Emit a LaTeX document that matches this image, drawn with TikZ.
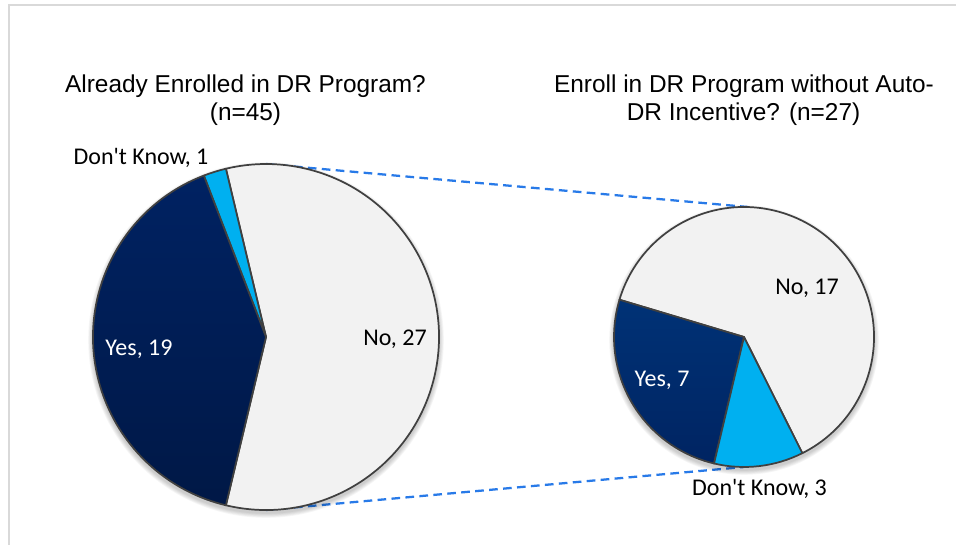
\documentclass[tikz,border=0pt]{standalone}
\usepackage{fontspec}
\usetikzlibrary{calc}
\setmainfont{Liberation Sans}
\newfontfamily\labfont{Carlito}
\definecolor{framegray}{RGB}{217,217,217}
\definecolor{nogray}{RGB}{242,242,242}
\definecolor{dkblue}{RGB}{0,176,240}
\definecolor{edgegray}{RGB}{64,64,64}
\definecolor{linkblue}{RGB}{40,122,232}
\definecolor{navytop}{RGB}{0,34,98}
\definecolor{navybot}{RGB}{0,24,70}
\definecolor{navytopb}{RGB}{0,50,118}
\definecolor{navybotb}{RGB}{0,36,98}
\tikzset{
  slice/.style={draw=edgegray, line width=1.3pt, line join=round},
  title/.style={font=\fontsize{18.3}{22}\selectfont, align=center, text=black, inner sep=0pt},
  datalabel/.style={font=\labfont\fontsize{18}{21}\selectfont, inner sep=0pt},
  link/.style={draw=linkblue, line width=1.7pt, dash pattern=on 6.5pt off 4pt},
}
\begin{document}
\begin{tikzpicture}[x=0.75pt, y=0.75pt]
\useasboundingbox (0,0) rectangle (956,-545);
% chart frame
\draw[framegray, line width=2pt] (9,-560) -- (9,-5) -- (970,-5);

% pie centres and radii
\coordinate (L) at (266,-337);
\coordinate (R) at (744,-337);
\def\rl{173}
\def\rr{130}

% connectors between the two pies
\coordinate (Ltop) at (266,-164);
\coordinate (Lbot) at (266,-510);
\coordinate (Rtop) at (748,-207);
\coordinate (Rbot) at (744,-467);
\draw[link] (Ltop) -- (Rtop);
\draw[link] (Lbot) -- (Rbot);

% soft shadows
\foreach \k in {1,...,6}{
  \fill[black, opacity=0.035] ($(L)+(0,-3)$) circle[radius=\rl+0.8*\k];
  \fill[black, opacity=0.035] ($(R)+(0,-3)$) circle[radius=\rr+0.8*\k];
}

% left pie: No 27, Don't Know 1, Yes 19
\filldraw[slice, fill=nogray] (L) -- ($(L)+(-103.40:\rl)$) arc[start angle=-103.40, end angle=103.40, radius=\rl] -- cycle;
\filldraw[slice, fill=dkblue] (L) -- ($(L)+(103.40:\rl)$) arc[start angle=103.40, end angle=111.06, radius=\rl] -- cycle;
\filldraw[slice, top color=navytop, bottom color=navybot] (L) -- ($(L)+(111.06:\rl)$) arc[start angle=111.06, end angle=256.60, radius=\rl] -- cycle;

% right pie: No 17, Yes 7, Don't Know 3
\filldraw[slice, fill=nogray] (R) -- ($(R)+(-63.33:\rr)$) arc[start angle=-63.33, end angle=163.33, radius=\rr] -- cycle;
\filldraw[slice, top color=navytopb, bottom color=navybotb] (R) -- ($(R)+(163.33:\rr)$) arc[start angle=163.33, end angle=256.67, radius=\rr] -- cycle;
\filldraw[slice, fill=dkblue] (R) -- ($(R)+(256.67:\rr)$) arc[start angle=256.67, end angle=296.67, radius=\rr] -- cycle;

% titles
\node[title] (t1a) at (245.5,-86) {Already Enrolled in DR Program?};
\node[title] (t1b) at (245.5,-114) {(n=45)};
\node[title] (t2a) at (744,-86) {Enroll in DR Program without Auto-};
\node[title] (t2b) at (743.5,-114) {DR Incentive? (n=27)};

% data labels
\node[datalabel] (dk1) at (141,-158) {Don't Know, 1};
\node[datalabel, text=white] (yes19) at (139,-349) {Yes, 19};
\node[datalabel] (no27) at (395,-339) {No, 27};
\node[datalabel] (no17) at (807,-288) {No, 17};
\node[datalabel, text=white] (yes7) at (662,-380) {Yes, 7};
\node[datalabel] (dk3) at (759.5,-489) {Don't Know, 3};
\end{tikzpicture}
\end{document}
